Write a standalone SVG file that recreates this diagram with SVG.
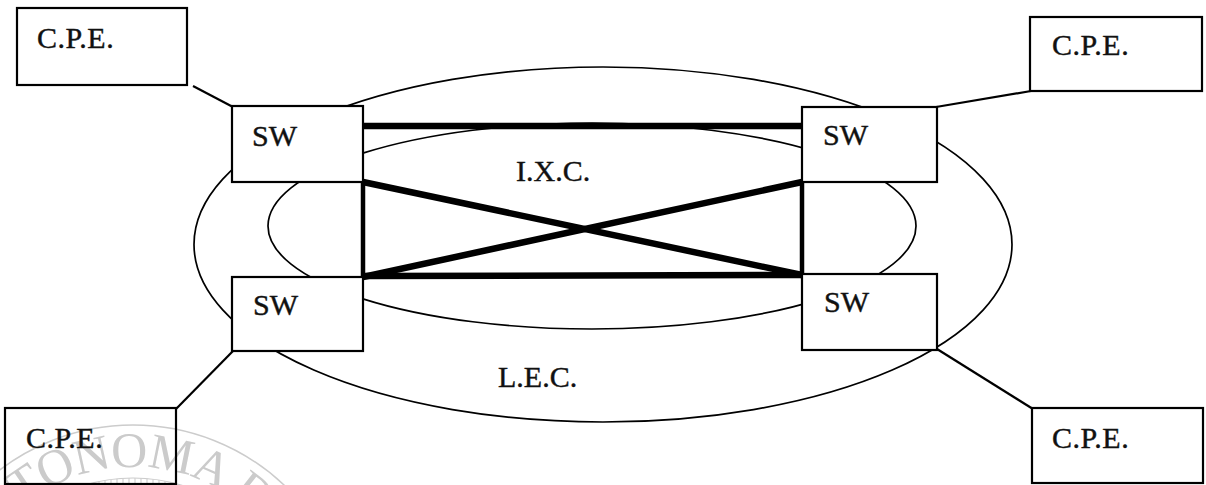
<svg xmlns="http://www.w3.org/2000/svg" width="1206" height="485" viewBox="0 0 1206 485">
  <style>
    .box { fill: #ffffff; stroke: #000000; stroke-width: 2.2; }
    .lbl { font-family: "Liberation Serif", "Times New Roman", serif; font-size: 30px; fill: #111111; stroke: #111111; stroke-width: 0.4; }
    .area { fill: none; stroke: #000000; stroke-width: 1.7; }
    .thin { stroke: #000000; stroke-width: 2.2; fill: none; }
    .trunk { stroke: #000000; stroke-width: 6.5; stroke-linecap: butt; fill: none; }
    .vert { stroke: #000000; stroke-width: 4.5; fill: none; }
    .wm { fill: none; stroke: #cccccc; stroke-width: 1.5; }
    .wmtext { font-family: "Liberation Serif", "Times New Roman", serif; font-size: 50px; fill: #cbcbcb; }
  </style>
  <defs>
    <pattern id="hatch" width="6" height="10" patternUnits="userSpaceOnUse">
      <line x1="3" y1="0" x2="3" y2="10" stroke="#d2d2d2" stroke-width="1.2"/>
    </pattern>
    <path id="wmArc" d="M -45 645 A 178 178 0 0 1 311 645"/>
  </defs>
  <rect width="1206" height="485" fill="#ffffff"/>

  <!-- watermark seal (partially visible) -->
  <g id="watermark">
    <circle cx="133" cy="645" r="220" class="wm"/>
    <circle cx="133" cy="645" r="167" fill="url(#hatch)" stroke="#cccccc" stroke-width="1.2"/>
    <text class="wmtext" letter-spacing="-1"><textPath href="#wmArc" startOffset="124">UTONOMA DE</textPath></text>
  </g>

  <!-- carrier areas -->
  <g id="lec">
    <ellipse cx="603" cy="244.5" rx="409" ry="177.5" class="area"/>
    <text x="498" y="387" class="lbl">L.E.C.</text>
  </g>
  <g id="ixc">
    <ellipse cx="592" cy="226" rx="324" ry="103" class="area"/>
    <text x="516" y="181" class="lbl">I.X.C.</text>
  </g>

  <!-- connectors -->
  <g id="connectors">
    <line x1="193" y1="86" x2="233" y2="107" class="thin"/>
    <line x1="936" y1="107" x2="1031" y2="91" class="thin"/>
    <line x1="233" y1="351" x2="176" y2="409" class="thin"/>
    <line x1="937" y1="349" x2="1033" y2="409" class="thin"/>

    <line x1="363" y1="126" x2="802" y2="126" class="trunk"/>
    <line x1="363" y1="276" x2="802" y2="275" class="trunk"/>
    <line x1="363" y1="182" x2="802" y2="275" class="trunk"/>
    <line x1="363" y1="277" x2="802" y2="182" class="trunk"/>
    <line x1="363" y1="181" x2="363" y2="278" class="vert"/>
    <line x1="802" y1="181" x2="802" y2="276" class="vert"/>
  </g>

  <!-- switches -->
  <g id="sw-top-left">
    <rect x="232" y="106" width="131" height="76" class="box"/>
    <text x="252" y="146" class="lbl">SW</text>
  </g>
  <g id="sw-top-right">
    <rect x="802" y="107" width="135" height="75" class="box"/>
    <text x="823" y="145" class="lbl">SW</text>
  </g>
  <g id="sw-bottom-left">
    <rect x="232" y="277" width="131" height="74" class="box"/>
    <text x="253" y="315" class="lbl">SW</text>
  </g>
  <g id="sw-bottom-right">
    <rect x="802" y="274" width="135" height="76" class="box"/>
    <text x="824" y="312" class="lbl">SW</text>
  </g>

  <!-- customer premises equipment -->
  <g id="cpe-top-left">
    <rect x="17" y="8" width="170" height="77" class="box"/>
    <text x="37" y="48" class="lbl" letter-spacing="0.5">C.P.E.</text>
  </g>
  <g id="cpe-top-right">
    <rect x="1030" y="17" width="172" height="74" class="box"/>
    <text x="1052" y="55" class="lbl" letter-spacing="0.5">C.P.E.</text>
  </g>
  <g id="cpe-bottom-left">
    <rect x="5" y="408" width="171" height="76" class="box" fill-opacity="0"/>
    <text x="26" y="448" class="lbl" letter-spacing="0.5">C.P.E.</text>
  </g>
  <g id="cpe-bottom-right">
    <rect x="1032" y="408" width="171" height="75" class="box"/>
    <text x="1052" y="448" class="lbl" letter-spacing="0.5">C.P.E.</text>
  </g>
</svg>
